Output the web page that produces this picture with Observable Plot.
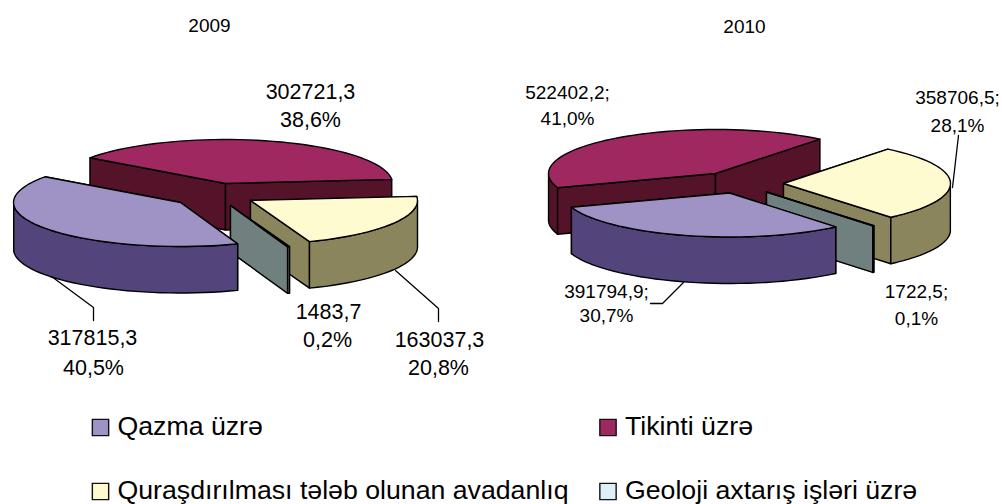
<!DOCTYPE html>
<html><head><meta charset="utf-8">
<script src="https://cdn.jsdelivr.net/npm/d3@7"></script>
<script src="https://cdn.jsdelivr.net/npm/@observablehq/plot@0.6"></script>
<style>html,body{margin:0;padding:0;background:#fff}svg{display:block}</style>
</head><body><div id="chart"></div>
<script>
const categories = ["Qazma üzrə","Tikinti üzrə","Quraşdırılması tələb olunan avadanlıq","Geoloji axtarış işləri üzrə"];
const values2009 = [317815.3,302721.3,163037.3,1483.7];
const values2010 = [391794.9,522402.2,358706.5,1722.5];
const labels2009 = [["317815,3","40,5%"],["302721,3","38,6%"],["163037,3","20,8%"],["1483,7","0,2%"]];
const labels2010 = [["391794,9;","30,7%"],["522402,2;","41,0%"],["358706,5;","28,1%"],["1722,5;","0,1%"]];
const topColors = ["#9f93c6","#a02860","#fffbd0","#ddf0f8"];
const sideColors = ["#54447c","#541329","#8b855e","#70807e"];
const paintOrder = [1,2,3,0];

const W=1002,H=504,RX=167,RY=44,DEPTH=46.5;
const pies=[
 {values:values2009,start:290,centers:[[180,202],[225,183],[250,200],[230,205]]},
 {values:values2010,start:309.5,centers:[[729,192.5],[715,173],[783,183],[766,191.5]]}
];
const faces=[];
pies.forEach((p,pi)=>{
  const total=d3.sum(p.values);
  let a=p.start;
  const spans=p.values.map(v=>{const s=a,e=a-v/total*360;a=e;return [s,e];});
  paintOrder.forEach((i,order)=>{
    const [s,e]=spans[i],[cx,cy]=p.centers[i];
    const pt=(deg,dz=0)=>{const r=deg*Math.PI/180;return [cx+RX*Math.cos(r),cy-RY*Math.sin(r)+dz];};
    const n=Math.max(2,Math.ceil((s-e)/3));
    const angs=d3.range(n+1).map(k=>s+(e-s)*k/n);
    const arc=angs.map(d=>pt(d));
    const add=(id,pts,fill)=>pts.forEach(q=>faces.push({id:`${pi}-${order}-${id}`,x:q[0],y:q[1],fill}));
    add("r1",[[cx,cy],pt(s),pt(s,DEPTH),[cx,cy+DEPTH],[cx,cy]],sideColors[i]);
    add("r2",[[cx,cy],pt(e),pt(e,DEPTH),[cx,cy+DEPTH],[cx,cy]],sideColors[i]);
    // outer wall: the part of the arc facing the viewer
    const front=angs.filter(d=>Math.sin(d*Math.PI/180)<=0);
    if(front.length>1){
      const wall=[...front.map(d=>pt(d)),...front.slice().reverse().map(d=>pt(d,DEPTH))];
      wall.push(wall[0]);
      add("w",wall,sideColors[i]);
    }
    add("t",[[cx,cy],...arc,[cx,cy]],topColors[i]);
  });
});

const leaders=[
 [[47,273],[93,307],[93,320]],
 [[395,270],[438,308],[438,321]],
 [[683,282],[662,303],[650,303]],
 [[952,187],[958,135]]
];
const leaderRows=leaders.flatMap((l,id)=>l.map(([x,y])=>({id,x,y})));

const big=21.5, small=19;
const textRows=[
 {t:"2009",x:209,y:25,s:small},{t:"2010",x:744,y:26,s:small},
 {t:labels2009[1][0],x:310,y:92,s:big},{t:labels2009[1][1],x:310,y:120,s:big},
 {t:labels2009[0][0],x:92,y:338,s:big},{t:labels2009[0][1],x:93,y:368,s:big},
 {t:labels2009[3][0],x:328,y:312,s:big},{t:labels2009[3][1],x:327,y:340,s:big},
 {t:labels2009[2][0],x:439,y:340,s:big},{t:labels2009[2][1],x:438,y:368,s:big},
 {t:labels2010[1][0],x:567,y:92,s:small},{t:labels2010[1][1],x:567,y:118,s:small},
 {t:labels2010[2][0],x:957,y:97,s:small},{t:labels2010[2][1],x:957,y:125,s:small},
 {t:labels2010[0][0],x:606,y:291,s:small},{t:labels2010[0][1],x:606,y:315,s:small},
 {t:labels2010[3][0],x:916,y:291,s:small},{t:labels2010[3][1],x:916,y:318,s:small}
];
const legendRows=[
 {x:100,y:427,i:0},{x:607.5,y:427,i:1},{x:100,y:491,i:2},{x:607.5,y:491,i:3}
].map(d=>({...d,label:categories[d.i],fill:topColors[d.i]}));

const chart=Plot.plot({
  width:W,height:H,margin:0,
  x:{domain:[0,W],range:[0,W],axis:null},
  y:{domain:[0,H],range:[0,H],axis:null},
  style:{fontFamily:"'Liberation Sans',Arial,sans-serif",background:"#fff",color:"#000"},
  marks:[
    Plot.line(leaderRows,{x:"x",y:"y",z:"id",stroke:"#000",strokeWidth:1.3,curve:"linear"}),
    Plot.line(faces,{x:"x",y:"y",z:"id",fill:"fill",stroke:"#000",strokeWidth:1.4,strokeLinejoin:"round",curve:"linear"}),
    ...[small,big].map(s=>Plot.text(textRows.filter(d=>d.s===s),{x:"x",y:"y",text:"t",fontSize:s,fill:"#000",textAnchor:"middle"})),
    Plot.dot(legendRows,{x:"x",y:"y",symbol:"square",r:9.2,fill:"fill",stroke:"#111",strokeWidth:1.4}),
    Plot.text(legendRows,{x:d=>d.x+17,y:d=>d.y-1,text:"label",fontSize:26.7,textAnchor:"start",fill:"#000"})
  ]
});
document.getElementById("chart").appendChild(chart);
</script></body></html>
